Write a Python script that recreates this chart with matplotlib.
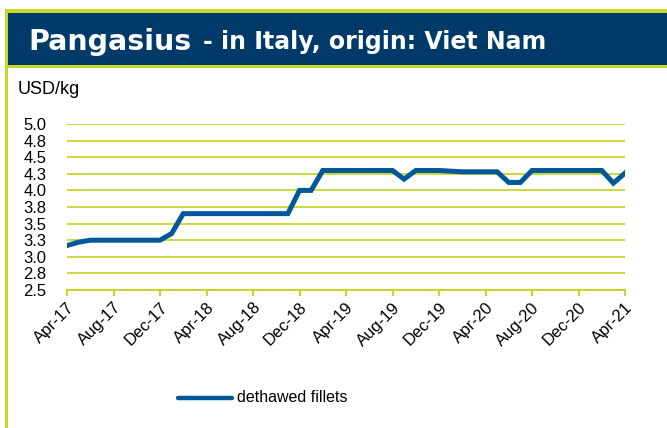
import matplotlib
matplotlib.use("Agg")
import matplotlib.pyplot as plt
from matplotlib.patches import Rectangle
from matplotlib.lines import Line2D

# monthly prices, Apr-17 .. Apr-21
months = ["Apr-17", "May-17", "Jun-17", "Jul-17", "Aug-17", "Sep-17", "Oct-17", "Nov-17", "Dec-17",
          "Jan-18", "Feb-18", "Mar-18", "Apr-18", "May-18", "Jun-18", "Jul-18", "Aug-18", "Sep-18",
          "Oct-18", "Nov-18", "Dec-18", "Jan-19", "Feb-19", "Mar-19", "Apr-19", "May-19", "Jun-19",
          "Jul-19", "Aug-19", "Sep-19", "Oct-19", "Nov-19", "Dec-19", "Jan-20", "Feb-20", "Mar-20",
          "Apr-20", "May-20", "Jun-20", "Jul-20", "Aug-20", "Sep-20", "Oct-20", "Nov-20", "Dec-20",
          "Jan-21", "Feb-21", "Mar-21", "Apr-21"]
dethawed_fillets = [3.17, 3.22, 3.25, 3.25, 3.25, 3.25, 3.25, 3.25, 3.25,
                    3.35, 3.65, 3.65, 3.65, 3.65, 3.65, 3.65, 3.65, 3.65,
                    3.65, 3.65, 4.00, 4.00, 4.30, 4.30, 4.30, 4.30, 4.30,
                    4.30, 4.30, 4.17, 4.30, 4.30, 4.30, 4.29, 4.28, 4.28,
                    4.28, 4.28, 4.12, 4.12, 4.30, 4.30, 4.30, 4.30, 4.30,
                    4.30, 4.30, 4.11, 4.26]
y_ticks = [2.5, 2.75, 3.0, 3.25, 3.5, 3.75, 4.0, 4.25, 4.5, 4.75, 5.0]
y_tick_labels = ["2.5", "2.8", "3.0", "3.3", "3.5", "3.8", "4.0", "4.3", "4.5", "4.8", "5.0"]

navy = "#003a6b"
lime = "#c8d62a"
blue = "#00589a"

W, H = 667, 428
fig = plt.figure(figsize=(W / 100, H / 100), dpi=100)
fig.patch.set_facecolor("white")

# frame: title bar with lime borders, lime left border
fig.add_artist(Rectangle((5 / W, 0), 3 / W, 1 - 9 / H, transform=fig.transFigure, fc=lime, ec="none"))
fig.add_artist(Rectangle((5 / W, 1 - 68 / H), 1, 59 / H, transform=fig.transFigure, fc=lime, ec="none"))
fig.add_artist(Rectangle((8 / W, 1 - 65 / H), 1, 52.5 / H, transform=fig.transFigure, fc=navy, ec="none"))

fig.text(28 / W, 1 - 49.5 / H, "Pangasius", color="white", fontsize=20.5, fontweight="bold",
         family="DejaVu Sans", va="baseline")
fig.text(203 / W, 1 - 49.5 / H, "- in Italy, origin: Viet Nam", color="white", fontsize=17,
         fontweight="bold", family="DejaVu Sans", va="baseline")
fig.text(18 / W, 1 - 90 / H, "USD/kg", fontsize=13, family="Liberation Sans", va="center")

ax = fig.add_axes([67 / W, 1 - 290 / H, (625 - 67) / W, (290 - 124) / H])
x = list(range(len(months)))
ax.plot(x, dethawed_fillets, color=blue, lw=3.6, solid_joinstyle="miter", zorder=3)

ax.set_xlim(0, len(months) - 1)
ax.set_ylim(2.5, 5.0)
ax.set_yticks(y_ticks)
ax.set_yticklabels(y_tick_labels, family="Liberation Sans", fontsize=12)
ax.set_xticks(x[::4])
ax.set_xticklabels(months[::4], rotation=45, ha="right", va="top", rotation_mode="anchor",
                   family="Liberation Sans", fontsize=12)
ax.tick_params(axis="y", length=0, pad=15)
ax.tick_params(axis="x", length=4, width=1.5, color=lime, pad=3)
ax.grid(axis="y", color=lime, lw=1.3)
ax.set_axisbelow(True)
for side in ["top", "right", "left"]:
    ax.spines[side].set_visible(False)
ax.spines["bottom"].set_color(lime)
ax.spines["bottom"].set_linewidth(1.5)
ax.set_facecolor("none")

# legend
fig.add_artist(Line2D([178 / W, 232 / W], [1 - 397.5 / H, 1 - 397.5 / H], transform=fig.transFigure,
                      color=blue, lw=3.2, solid_capstyle="round"))
fig.text(237 / W, 1 - 397.5 / H, "dethawed fillets", fontsize=11.5, family="Liberation Sans", va="center")

fig.savefig("out.png", dpi=100)
